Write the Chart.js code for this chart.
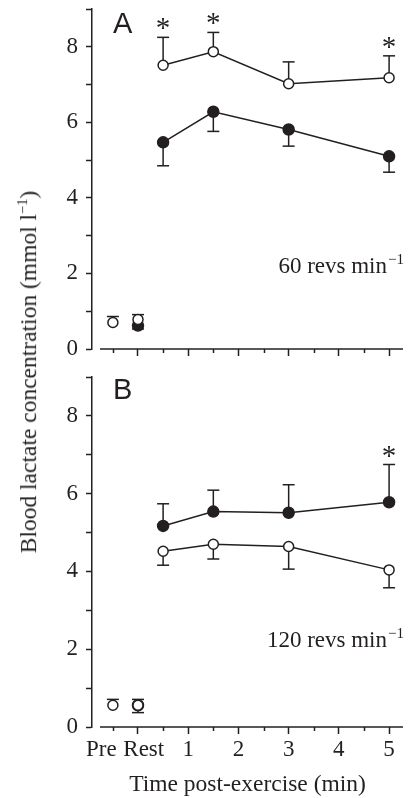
<!DOCTYPE html>
<html>
<head>
<meta charset="utf-8">
<script src="https://cdn.jsdelivr.net/npm/chart.js@4/dist/chart.umd.min.js"></script>
<style>
  html, body { margin: 0; padding: 0; background: #fff; }
  #wrap { position: relative; width: 410px; height: 798px; overflow: hidden; }
  #panelA { position: absolute; left: 0; top: 0; }
  #panelB { position: absolute; left: 0; top: 370px; }
  #ytitle {
    position: absolute; left: 28px; top: 372px;
    transform: translate(-50%, -50%) rotate(-90deg);
    white-space: nowrap; color: #231f20;
    font: 23.5px "Liberation Serif", "Times New Roman", serif;
  }
  #ytitle sup { font-size: 0.62em; }
</style>
</head>
<body>
<div id="wrap">
  <canvas id="panelA" width="410" height="380"></canvas>
  <canvas id="panelB" width="410" height="428"></canvas>
  <div id="ytitle">Blood lactate concentration (mmol l<sup>−1</sup>)</div>
</div>
<script>
// time points (min); Pre and Rest sit left of zero
const postTimes = [0.5, 1.5, 3, 5];
const baseTimes = [-0.5, 0];
const xTickValues = [-0.5, 0, 0.5, 1, 1.5, 2, 2.5, 3, 3.5, 4, 4.5, 5];
const xTickNames  = ['Pre', 'Rest', '', '1', '', '2', '', '3', '', '4', '', '5'];

// A: 60 revs min-1 (open = one condition, filled = the other)
const aOpenPost = [7.51, 7.87, 7.02, 7.18];
const aOpenPostErr = [0.74, 0.51, 0.58, 0.58];
const aOpenSig = [true, true, false, true];
const aFilledPost = [5.47, 6.28, 5.81, 5.10];
const aFilledPostErr = [0.62, 0.52, 0.44, 0.42];
const aOpenBase = [0.70, 0.78];
const aOpenBaseErr = [0.16, 0.13];
const aFilledBase = [null, 0.62];
const aFilledBaseErr = [null, 0.09];

// B: 120 revs min-1
const bFilledPost = [5.17, 5.54, 5.51, 5.78];
const bFilledPostErr = [0.57, 0.55, 0.72, 0.97];
const bFilledSig = [false, false, false, true];
const bOpenPost = [4.52, 4.70, 4.64, 4.04];
const bOpenPostErr = [0.36, 0.38, 0.58, 0.46];
const bOpenBase = [0.56, 0.56];
const bOpenBaseErr = [0.15, 0.15];
const bFilledBase = [null, 0.56];
const bFilledBaseErr = [null, 0.19];

const ink = '#231f20';
const serif = '"Liberation Serif", "Times New Roman", serif';
const sans = '"Liberation Sans", Arial, sans-serif';

function pts(xs, ys) {
  return xs.map((x, i) => ({ x: x, y: ys[i] }));
}

function series(xs, ys, errs, dir, open, line, sig) {
  return {
    data: pts(xs, ys),
    errors: errs,
    errDir: dir,
    sig: sig || null,
    showLine: line,
    borderColor: ink,
    borderWidth: 1.5,
    pointRadius: open ? 5 : 5.5,
    pointBorderWidth: 1.5,
    pointBorderColor: ink,
    pointBackgroundColor: open ? '#fff' : ink,
    tension: 0
  };
}

function stroke(ctx, x1, y1, x2, y2) {
  ctx.beginPath();
  ctx.moveTo(x1, y1);
  ctx.lineTo(x2, y2);
  ctx.stroke();
}

const decor = {
  id: 'decor',
  beforeDatasetsDraw(chart) {
    const ctx = chart.ctx, xs = chart.scales.x, ys = chart.scales.y, area = chart.chartArea;
    ctx.save();
    ctx.strokeStyle = ink;
    ctx.lineWidth = 1.5;
    // x axis stands off from the y axis
    stroke(ctx, area.left + 8, area.bottom, area.right, area.bottom);
    // shorter ticks on the half minutes
    xTickValues.forEach(v => {
      if (!Number.isInteger(v)) {
        const px = Math.round(xs.getPixelForValue(v)) + 0.5;
        stroke(ctx, px, area.bottom, px, area.bottom + 4);
      }
    });
    // one-sided error bars
    chart.data.datasets.forEach(ds => {
      if (!ds.errors) return;
      ds.data.forEach((p, i) => {
        const e = ds.errors[i];
        if (e == null || p.y == null) return;
        const px = xs.getPixelForValue(p.x);
        const py = ys.getPixelForValue(p.y);
        const end = ys.getPixelForValue(p.y + ds.errDir * e);
        stroke(ctx, px, py, px, end);
        stroke(ctx, px - 6, end, px + 6, end);
      });
    });
    ctx.restore();
  },
  afterDatasetsDraw(chart, args, opts) {
    const ctx = chart.ctx, xs = chart.scales.x, ys = chart.scales.y;
    ctx.save();
    ctx.fillStyle = ink;
    // significance stars above the caps
    ctx.font = '29px ' + serif;
    ctx.textAlign = 'center';
    ctx.textBaseline = 'alphabetic';
    chart.data.datasets.forEach(ds => {
      if (!ds.sig) return;
      ds.data.forEach((p, i) => {
        if (!ds.sig[i]) return;
        const cap = ys.getPixelForValue(p.y + ds.errDir * ds.errors[i]);
        ctx.fillText('*', xs.getPixelForValue(p.x), cap);
      });
    });
    // panel letter
    ctx.font = '29px ' + sans;
    ctx.textAlign = 'left';
    ctx.fillText(opts.letter, 113, opts.letterY);
    // cadence note
    ctx.font = '23px ' + serif;
    ctx.textAlign = 'right';
    ctx.fillText(opts.note, 387, opts.noteY);
    ctx.font = '15px ' + serif;
    ctx.textAlign = 'left';
    ctx.fillText('−1', 388, opts.noteY - 9);
    ctx.restore();
  }
};

function makeChart(id, datasets, o) {
  return new Chart(document.getElementById(id), {
    type: 'scatter',
    data: { datasets: datasets },
    plugins: [decor],
    options: {
      responsive: false,
      animation: false,
      events: [],
      layout: { padding: { top: o.top, right: 5, left: 0, bottom: 0 } },
      plugins: {
        legend: { display: false },
        tooltip: { enabled: false },
        decor: { letter: o.letter, letterY: o.letterY, note: o.note, noteY: o.noteY }
      },
      scales: {
        x: {
          type: 'linear',
          min: -0.916,
          max: 5.277,
          afterBuildTicks: s => { s.ticks = xTickValues.map(v => ({ value: v })); },
          afterFit: s => { s.height = o.xHeight; s.paddingLeft = 0; s.paddingRight = 0; },
          border: { display: false },
          grid: {
            drawOnChartArea: false,
            tickLength: 7,
            tickWidth: 1.5,
            tickColor: c => Number.isInteger(c.tick.value) ? ink : 'rgba(0,0,0,0)'
          },
          ticks: {
            display: o.xLabels,
            autoSkip: false,
            maxRotation: 0,
            minRotation: 0,
            padding: 2,
            color: ink,
            font: { family: serif, size: 23 },
            callback: (v) => {
              const name = xTickNames[xTickValues.indexOf(v)] || '';
              if (name === 'Pre') return name + '    ';
              if (name === 'Rest') return '  ' + name;
              return name;
            }
          },
          title: {
            display: o.xLabels,
            text: 'Time post-exercise (min)',
            color: ink,
            padding: { top: 0, bottom: 0 },
            font: { family: serif, size: 23.5, lineHeight: 1.1 }
          }
        },
        y: {
          min: 0,
          max: 9,
          afterFit: s => { s.width = 92; s.paddingTop = 0; s.paddingBottom = 0; },
          border: { display: true, color: ink, width: 1.5 },
          grid: { drawOnChartArea: false, tickLength: 6, tickWidth: 1.5, tickColor: ink },
          ticks: {
            stepSize: 1,
            padding: 8,
            color: ink,
            font: { family: serif, size: 23 },
            callback: v => (v % 2 === 0 ? String(v) : '')
          }
        }
      }
    }
  });
}

makeChart('panelA', [
  series(postTimes, aOpenPost, aOpenPostErr, 1, true, true, aOpenSig),
  series(baseTimes, aOpenBase, aOpenBaseErr, 1, true, false),
  series(postTimes, aFilledPost, aFilledPostErr, -1, false, true),
  series(baseTimes, aFilledBase, aFilledBaseErr, -1, false, false)
], { top: 9, xHeight: 31, xLabels: false, letter: 'A', letterY: 33, note: '60 revs min', noteY: 273 });

makeChart('panelB', [
  series(postTimes, bOpenPost, bOpenPostErr, -1, true, true),
  series(baseTimes, bOpenBase, bOpenBaseErr, 1, true, false),
  series(postTimes, bFilledPost, bFilledPostErr, 1, false, true, bFilledSig),
  series(baseTimes, bFilledBase, bFilledBaseErr, -1, false, false)
], { top: 7, xHeight: 71, xLabels: true, letter: 'B', letterY: 29, note: '120 revs min', noteY: 277 });
</script>
</body>
</html>
